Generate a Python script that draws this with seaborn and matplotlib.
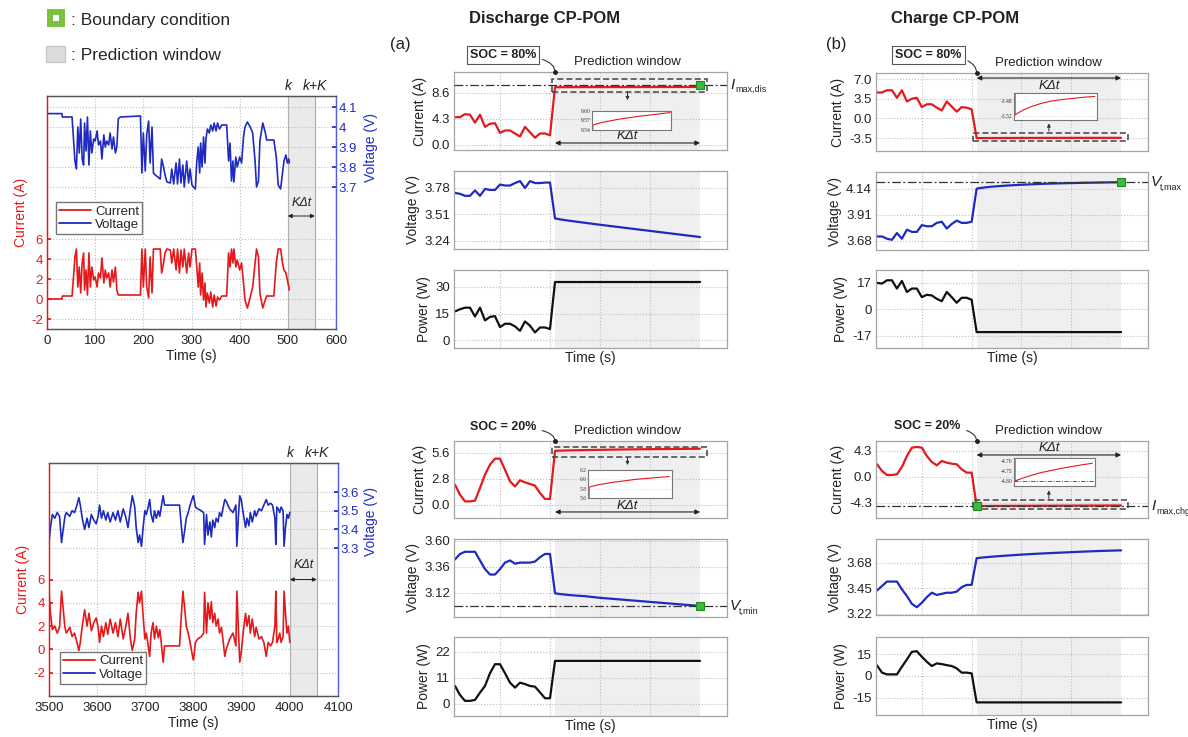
import matplotlib
matplotlib.use("Agg")
import matplotlib.pyplot as plt
import seaborn as sns
from matplotlib.lines import Line2D
from matplotlib.patches import Patch, Rectangle
from matplotlib.ticker import AutoMinorLocator

# -----------------------------
# Drive cycle before SOC = 80 % (top left)
# -----------------------------
tl_time = [
    0, 31, 32, 48, 52, 55, 58, 61, 64, 67,
    70, 73, 76, 78, 81, 84, 87, 90, 93, 97,
    100, 104, 107, 111, 114, 118, 121, 124, 128, 131,
    135, 138, 142, 145, 148, 152, 194, 197, 200, 204,
    207, 211, 214, 218, 221, 225, 230, 235, 238, 242,
    245, 249, 256, 259, 263, 268, 271, 275, 278, 282,
    285, 290, 294, 297, 301, 304, 308, 311, 314, 317,
    319, 322, 325, 328, 330, 333, 337, 340, 344, 347,
    351, 354, 358, 363, 373, 377, 380, 383, 386, 388,
    392, 395, 400, 404, 408, 411, 416, 422, 427, 432,
    435, 439, 442, 448, 453, 456, 471, 476, 480, 485,
    489, 492, 496, 499, 502, 503]
tl_current = [
    0.0, 0.0, 0.3, 0.3, 0.3, 2.2, 4.2, 5.0, 1.2, 3.2,
    0.6, 3.6, 4.6, 0.9, 2.9, 0.4, 4.6, 1.2, 3.2, 1.9,
    2.2, 1.2, 2.6, 2.1, 4.1, 1.6, 2.9, 2.1, 2.6, 1.2,
    2.9, 1.7, 3.2, 0.9, 0.4, 0.4, 0.4, 5.0, 1.2, 5.0,
    1.2, 0.1, 4.2, 0.6, 5.0, 5.0, 5.0, 5.0, 2.6, 3.6,
    4.6, 5.0, 4.9, 3.6, 5.0, 2.9, 5.0, 2.6, 4.9, 3.2,
    5.0, 2.6, 4.6, 3.2, 5.0, 5.0, 5.0, 3.2, 1.2, 3.6,
    0.4, 2.6, -0.1, 1.6, -0.8, 0.6, -0.4, 0.7, -0.8, 0.4,
    -0.7, 0.2, -0.1, 0.3, 0.3, 4.6, 3.2, 5.0, 3.6, 5.0,
    3.2, 3.9, 2.9, 3.6, 1.6, -0.1, -0.9, 0.2, 1.2, 3.6,
    5.0, 4.2, 0.6, -0.9, -0.1, 0.3, 0.3, 3.6, 5.0, 5.0,
    3.6, 2.9, 2.6, 1.9, 1.2, 0.9]
tl_voltage = [
    4.067, 4.067, 4.05, 4.05, 4.05, 3.94, 3.83, 3.79, 4.00, 3.87,
    4.04, 3.84, 3.81, 4.02, 3.88, 4.05, 3.81, 3.98, 3.87, 3.94,
    3.93, 3.98, 3.91, 3.93, 3.84, 3.96, 3.90, 3.93, 3.91, 3.97,
    3.89, 3.95, 3.87, 3.90, 4.04, 4.05, 4.055, 3.77, 3.97, 3.78,
    3.96, 4.03, 3.82, 4.00, 3.77, 3.76, 3.75, 3.74, 3.84, 3.80,
    3.76, 3.725, 3.72, 3.79, 3.715, 3.82, 3.715, 3.84, 3.72, 3.81,
    3.70, 3.83, 3.72, 3.79, 3.71, 3.70, 3.69, 3.83, 3.90, 3.77,
    3.92, 3.80, 3.95, 3.82, 3.94, 3.99, 3.97, 4.01, 3.98, 4.02,
    3.98, 4.02, 3.99, 4.01, 4.01, 3.83, 3.92, 3.73, 3.83, 3.725,
    3.85, 3.80, 3.85, 3.82, 3.95, 4.00, 4.025, 4.00, 3.97, 3.83,
    3.70, 3.73, 3.93, 4.02, 3.975, 3.935, 3.935, 3.85, 3.71, 3.69,
    3.77, 3.83, 3.86, 3.82, 3.84, 3.82]
tl_k, tl_kK = 500, 556

# -----------------------------
# Drive cycle before SOC = 20 % (bottom left)
# -----------------------------
bl_time = [
    3500, 3503, 3507, 3512, 3517, 3522, 3526, 3529, 3533, 3536,
    3543, 3548, 3553, 3558, 3562, 3565, 3569, 3574, 3579, 3583,
    3588, 3593, 3598, 3602, 3605, 3609, 3613, 3618, 3622, 3627,
    3633, 3638, 3643, 3648, 3654, 3659, 3664, 3669, 3673, 3678,
    3681, 3685, 3688, 3692, 3695, 3699, 3702, 3706, 3709, 3712,
    3716, 3719, 3723, 3727, 3730, 3733, 3737, 3740, 3744, 3771,
    3775, 3778, 3782, 3785, 3789, 3793, 3798, 3800, 3804, 3809,
    3816, 3821, 3823, 3827, 3830, 3834, 3837, 3840, 3844, 3847,
    3851, 3854, 3858, 3861, 3865, 3868, 3875, 3882, 3888, 3890,
    3893, 3896, 3899, 3903, 3908, 3911, 3915, 3918, 3922, 3927,
    3930, 3936, 3941, 3946, 3951, 3955, 3960, 3964, 3969, 3971,
    3973, 3976, 3979, 3982, 3986, 3988, 3991, 3994, 3997, 4000]
bl_current = [
    5.0, 3.1, 1.7, 2.0, 1.4, 1.9, 5.0, 3.7, 1.9, 1.4,
    1.9, 1.1, 1.4, 0.6, -0.1, 0.6, 2.0, 3.4, 2.0, 3.1,
    1.6, 2.3, 2.7, 1.9, 0.6, 2.0, 1.1, 2.3, 1.3, 2.6,
    1.4, 2.3, 1.1, 2.6, 0.9, 1.9, 3.1, 0.9, -0.1, 0.9,
    3.1, 4.9, 4.0, 5.0, 3.1, 0.9, 1.4, 0.3, -0.6, 1.4,
    2.3, 0.9, 2.0, 1.0, 1.7, 0.6, -1.1, 0.3, 0.3, 0.3,
    3.1, 5.0, 3.4, 2.0, 1.4, 0.6, -0.6, -0.9, 0.6, 0.9,
    1.1, 1.4, 4.9, 1.4, 4.0, 2.6, 4.1, 2.3, 3.1, 2.0,
    2.6, 1.4, 1.9, 0.9, -0.6, 0.0, 0.9, 1.4, 0.3, 5.0,
    2.0, -1.1, -0.3, 1.4, 3.1, 2.0, 2.9, 1.4, 2.6, 1.1,
    1.9, 0.9, 1.1, 0.6, -0.6, 0.6, 0.3, 0.6, 2.0, 5.0,
    0.6, 0.9, 1.4, 0.6, 1.1, 5.0, 3.1, 1.4, 2.0, 0.6]
bl_voltage = [
    3.33, 3.41, 3.48, 3.46, 3.49, 3.47, 3.33, 3.39, 3.47, 3.49,
    3.47, 3.50, 3.49, 3.53, 3.57, 3.53, 3.46, 3.40, 3.46, 3.41,
    3.48, 3.45, 3.43, 3.47, 3.53, 3.46, 3.50, 3.45, 3.49, 3.44,
    3.49, 3.45, 3.50, 3.44, 3.51, 3.47, 3.41, 3.51, 3.58, 3.52,
    3.41, 3.33, 3.37, 3.31, 3.40, 3.50, 3.48, 3.52, 3.56, 3.48,
    3.44, 3.50, 3.46, 3.50, 3.47, 3.52, 3.58, 3.53, 3.53, 3.53,
    3.41, 3.33, 3.40, 3.46, 3.49, 3.53, 3.57, 3.58, 3.52, 3.51,
    3.50, 3.49, 3.32, 3.48, 3.37, 3.44, 3.36, 3.45, 3.41, 3.46,
    3.44, 3.49, 3.47, 3.51, 3.56, 3.55, 3.51, 3.49, 3.53, 3.31,
    3.46, 3.58, 3.56, 3.49, 3.41, 3.46, 3.42, 3.49, 3.44, 3.50,
    3.47, 3.51, 3.50, 3.53, 3.56, 3.53, 3.54, 3.53, 3.46, 3.32,
    3.52, 3.51, 3.49, 3.52, 3.50, 3.31, 3.41, 3.48, 3.46, 3.49]
bl_k, bl_kK = 4000, 4056

# -----------------------------
# CP-POM panels: history (t <= 0) and prediction window (t = 1 .. 30)
# -----------------------------
hist_t = [-19, -18, -17, -16, -15, -14, -13, -12, -11, -10,
          -9, -8, -7, -6, -5, -4, -3, -2, -1, 0]
pred_t = [1, 2, 4, 7, 10, 14, 18, 22, 26, 30]
flat_t = [1, 30]
grid_t = [-10, 0, 10, 20]

# discharge, SOC = 80 %
dis80_hist_i = [4.6, 4.6, 5.1, 5.0, 3.7, 5.0, 3.0, 3.5, 3.6, 2.0,
                2.4, 2.4, 1.9, 1.4, 3.0, 2.1, 1.2, 1.9, 1.9, 1.6]
dis80_pred_i = [9.555, 9.558, 9.563, 9.568, 9.573, 9.578, 9.583, 9.587, 9.591, 9.595]
dis80_hist_v = [3.73, 3.72, 3.70, 3.70, 3.755, 3.70, 3.77, 3.76, 3.76, 3.815,
                3.805, 3.805, 3.83, 3.85, 3.78, 3.85, 3.83, 3.83, 3.835, 3.835]
dis80_pred_v = [3.47, 3.46, 3.445, 3.425, 3.405, 3.38, 3.355, 3.33, 3.305, 3.28]
dis80_hist_p = [16.2, 17.4, 18.3, 18.3, 13.3, 18.3, 11.1, 13.1, 13.5, 7.3,
                9.2, 9.2, 7.7, 5.2, 10.5, 8.1, 4.3, 7.1, 7.1, 6.2]
dis80_pred_p = [32.8, 32.8]

# charge, SOC = 80 %
chg80_hist_i = [4.6, 4.6, 5.0, 5.0, 3.65, 5.0, 3.0, 3.5, 3.65, 2.0,
                2.5, 2.5, 1.9, 1.4, 3.0, 2.1, 1.2, 2.0, 1.9, 1.6]
chg80_pred_i = [-3.517, -3.512, -3.504, -3.495, -3.488, -3.481, -3.477, -3.474, -3.471, -3.469]
chg80_hist_v = [3.72, 3.72, 3.70, 3.69, 3.75, 3.70, 3.78, 3.76, 3.76, 3.82,
                3.81, 3.81, 3.84, 3.85, 3.79, 3.83, 3.86, 3.84, 3.84, 3.85]
chg80_pred_v = [4.143, 4.150, 4.160, 4.170, 4.177, 4.185, 4.190, 4.194, 4.197, 4.200]
chg80_hist_p = [17.0, 16.6, 18.7, 18.7, 13.4, 18.3, 11.2, 13.4, 13.4, 7.9,
                9.4, 9.0, 6.8, 5.3, 11.2, 7.9, 4.3, 7.5, 7.5, 6.2]
chg80_pred_p = [-14.5, -14.5]

# discharge, SOC = 20 %
dis20_hist_i = [2.19, 1.11, 0.39, 0.39, 0.47, 1.83, 3.27, 4.34, 4.99, 4.99,
                3.8, 2.55, 2.0, 2.66, 2.44, 2.26, 2.08, 1.29, 0.65, 0.65]
dis20_pred_i = [5.83, 5.85, 5.88, 5.91, 5.94, 5.97, 6.0, 6.02, 6.04, 6.06]
dis20_hist_v = [3.43, 3.48, 3.50, 3.50, 3.50, 3.42, 3.34, 3.29, 3.29, 3.34,
                3.40, 3.42, 3.39, 3.40, 3.40, 3.40, 3.41, 3.45, 3.48, 3.48]
dis20_pred_v = [3.117, 3.11, 3.10, 3.09, 3.075, 3.06, 3.045, 3.03, 3.015, 3.0]
dis20_hist_p = [7.6, 3.8, 1.3, 1.3, 1.7, 4.8, 7.6, 13.0, 16.8, 16.8,
                13.0, 9.0, 6.9, 9.0, 8.4, 7.6, 7.3, 4.9, 2.4, 2.4]
dis20_pred_p = [18.2, 18.2]

# charge, SOC = 20 %
chg20_hist_i = [2.1, 1.0, 0.33, 0.33, 0.44, 1.65, 3.47, 4.85, 4.96, 4.85,
                3.47, 2.48, 1.93, 2.65, 2.37, 2.2, 2.1, 1.27, 0.72, 0.72]
chg20_pred_i = [-4.80, -4.795, -4.785, -4.772, -4.76, -4.748, -4.737, -4.727, -4.718, -4.71]
chg20_hist_v = [3.43, 3.47, 3.51, 3.51, 3.51, 3.44, 3.38, 3.31, 3.28, 3.32,
                3.37, 3.41, 3.39, 3.40, 3.41, 3.41, 3.42, 3.46, 3.48, 3.48]
chg20_pred_v = [3.72, 3.725, 3.733, 3.743, 3.752, 3.762, 3.77, 3.778, 3.785, 3.79]
chg20_hist_p = [7.2, 2.3, 1.1, 1.1, 1.1, 6.3, 11.3, 16.5, 16.9, 13.1,
                9.7, 6.8, 8.6, 8.1, 7.4, 6.8, 5.2, 2.3, 2.3, 1.8]
chg20_pred_p = [-18.0, -18.0]

imax_dis = 10.0
vt_max = 4.20
vt_min = 3.00
imax_chg = -4.80

# -----------------------------
# Style
# -----------------------------
sns.set_theme(style="white", rc={"xtick.labelsize": 9.5, "ytick.labelsize": 9.5,
                                 "axes.labelsize": 10, "axes.linewidth": 0.9})
plt.rcParams["font.family"] = ["Liberation Sans", "DejaVu Sans"]

RED = "#e3191c"
BLUE = "#1f2bbf"
BLACK = "#111111"
TXT = "#222222"
GRID = "#bdbdbd"
SHADE = "#efefef"

W, H = 1188, 737
fig = plt.figure(figsize=(W / 100, H / 100), dpi=100)


def px_axes(x0, y0, x1, y1):
    return fig.add_axes([x0 / W, 1 - y1 / H, (x1 - x0) / W, (y1 - y0) / H])


# -----------------------------
# Left panels (drive cycle with twin axes)
# -----------------------------
def drive_panel(box, t, cur, volt, k, kK, xlim, xticks, ilim, vlim, vticks, vlabels,
                kdt_y, leg_xy, vlabel_y):
    ax = px_axes(*box)
    ax2 = ax.twinx()
    ax.axvspan(k, kK, fc="#eaeaea", ec="#aaaaaa", lw=0.8, zorder=0)
    sns.lineplot(x=t, y=cur, ax=ax, color=RED, lw=1.2, estimator=None, sort=False, legend=False)
    sns.lineplot(x=t, y=volt, ax=ax2, color=BLUE, lw=1.2, estimator=None, sort=False, legend=False)
    ax.set_xlim(xlim)
    ax.set_xticks(xticks)
    ax.set_ylim(ilim)
    ax.set_yticks([-2, 0, 2, 4, 6])
    ax.set_yticklabels(["-2", "0", "2", "4", "6"])
    ax2.set_ylim(vlim)
    ax2.set_yticks(vticks)
    ax2.set_yticklabels(vlabels)
    ax.grid(True, ls=":", color=GRID, lw=0.8)
    ax2.grid(True, axis="y", ls=":", color=GRID, lw=0.8)
    ax.set_axisbelow(True)
    ax.tick_params(axis="y", colors=RED, direction="in", length=3, pad=3)
    ax.tick_params(axis="x", colors=TXT, direction="in", length=3, pad=4)
    ax2.tick_params(axis="y", colors=BLUE, direction="in", length=3, pad=2)
    for a in (ax, ax2):
        a.spines["left"].set_color(RED)
        a.spines["right"].set_color("#5560e0")
        a.spines["top"].set_color("#555555")
        a.spines["bottom"].set_color("#555555")
    ax.set_xlabel("Time (s)", color=TXT, labelpad=2)
    ax.set_ylabel("Current (A)", color=RED, labelpad=2)
    ax2.set_ylabel("")
    fig.text(371 / W, 1 - vlabel_y / H, "Voltage (V)", rotation=90, color=BLUE,
             ha="center", va="center", fontsize=10)
    for x, s in ((k, "k"), (kK, "k+K")):
        ax.annotate(s, xy=(x, 1), xycoords=("data", "axes fraction"), xytext=(0, 2),
                    textcoords="offset points", ha="center", va="bottom",
                    style="italic", fontsize=10, color=TXT)
    ax.annotate("", xy=(kK, kdt_y), xytext=(k, kdt_y),
                arrowprops=dict(arrowstyle="<|-|>", mutation_scale=6, lw=0.7,
                                color=TXT, shrinkA=0, shrinkB=0))
    ax.text((k + kK) / 2, kdt_y + 0.75, "KΔt", ha="center", va="bottom",
            style="italic", fontsize=9, color=TXT)
    handles = [Line2D([], [], color=RED, lw=1.3), Line2D([], [], color=BLUE, lw=1.3)]
    ax2.legend(handles, ["Current", "Voltage"], loc="upper left", bbox_to_anchor=leg_xy,
               fontsize=9.5, frameon=True, fancybox=False, framealpha=1,
               edgecolor="#777777", borderpad=0.25, labelspacing=0.1,
               handlelength=2.4, handletextpad=0.3, borderaxespad=0)
    return ax


drive_panel((47, 96, 336, 329), tl_time, tl_current, tl_voltage, tl_k, tl_kK,
            (0, 600), [0, 100, 200, 300, 400, 500, 600], (-3.0, 20.3),
            (2.99, 4.155), [3.7, 3.8, 3.9, 4.0, 4.1], ["3.7", "3.8", "3.9", "4", "4.1"],
            8.3, (0.031, 0.545), 148)
drive_panel((49, 463, 338, 696), bl_time, bl_current, bl_voltage, bl_k, bl_kK,
            (3500, 4100), [3500, 3600, 3700, 3800, 3900, 4000, 4100], (-4.0, 16.0),
            (2.51, 3.755), [3.3, 3.4, 3.5, 3.6], ["3.3", "3.4", "3.5", "3.6"],
            6.0, (0.038, 0.189), 522)


# -----------------------------
# Middle / right panels (CP-POM)
# -----------------------------
def cp_axes(box, t, y, color, ylim, ticks, labels, ylabel):
    ax = px_axes(*box)
    ax.axvspan(pred_t[0], pred_t[-1], fc=SHADE, ec="none", zorder=0)
    sns.lineplot(x=t, y=y, ax=ax, color=color, lw=1.6, estimator=None, sort=False, legend=False)
    ax.set_xlim(-19.2, 35.4)
    ax.set_ylim(ylim)
    ax.set_xticks(grid_t)
    ax.set_xticklabels([])
    ax.set_yticks(ticks)
    ax.set_yticklabels(labels)
    ax.yaxis.set_minor_locator(AutoMinorLocator(2))
    ax.grid(True, which="major", ls=":", color=GRID, lw=0.8)
    ax.set_axisbelow(True)
    ax.tick_params(axis="x", length=0, pad=0)
    ax.tick_params(axis="y", which="both", direction="in", color="#888888",
                   labelcolor=TXT, pad=3)
    ax.tick_params(axis="y", which="major", length=3)
    ax.tick_params(axis="y", which="minor", length=2)
    for s in ax.spines.values():
        s.set_color("#a5a5a5")
    ax.set_xlabel("")
    ax.set_ylabel(ylabel, color=TXT, labelpad=3)
    return ax


def limit_line(ax, value, letter, sub, sub_dx):
    ax.axhline(value, color="#333333", lw=0.9, ls=(0, (7, 2, 1.5, 2)), zorder=3)
    ax.annotate(letter, xy=(1, value), xycoords=("axes fraction", "data"), xytext=(3, 0),
                textcoords="offset pixels", ha="left", va="center", fontsize=11,
                style="italic", color=TXT, annotation_clip=False)
    ax.annotate(sub, xy=(1, value), xycoords=("axes fraction", "data"),
                xytext=(3 + sub_dx, -5), textcoords="offset pixels", ha="left",
                va="center", fontsize=6.5, color=TXT, annotation_clip=False)


def boundary(ax, t, value):
    ax.plot([t], [value], ls="none", marker="s", ms=5.5, mfc="#3cbc3c", mec="#1e8a1e",
            mew=0.8, clip_on=False, zorder=6)


def soc_note(ax, text, dx, dy, boxed):
    bbox = dict(boxstyle="square,pad=0.25", fc="white", ec="#555555", lw=0.8) if boxed else None
    ax.annotate(text, xy=(pred_t[0], 1), xycoords=("data", "axes fraction"),
                xytext=(dx, dy), textcoords="offset pixels", ha="center", va="center",
                fontsize=9, fontweight="bold", color=TXT, bbox=bbox,
                arrowprops=dict(arrowstyle="-", connectionstyle="angle3,angleA=0,angleB=90",
                                lw=0.8, color="#333333", shrinkA=2, shrinkB=0))
    ax.plot([pred_t[0]], [ax.get_ylim()[1]], ls="none", marker="o", ms=2.5,
            color="#222222", clip_on=False, zorder=6)


def window_marks(ax, arrow_y, text_y):
    ax.annotate("", xy=(pred_t[-1], arrow_y), xytext=(pred_t[0], arrow_y),
                arrowprops=dict(arrowstyle="<|-|>", mutation_scale=7, lw=0.8,
                                color=TXT, shrinkA=0, shrinkB=0))
    ax.text((pred_t[0] + pred_t[-1]) / 2, text_y, "KΔt", ha="center", va="center",
            style="italic", fontsize=9.5, color=TXT)
    ax.annotate("Prediction window", xy=(15.5, 1), xycoords=("data", "axes fraction"),
                xytext=(0, 4), textcoords="offset pixels", ha="center", va="bottom",
                fontsize=9.5, color=TXT)


def zoom_box(ax, lo, hi, arrow_from, arrow_to):
    ax.add_patch(Rectangle((0.3, lo), 31.0, hi - lo, fill=False, ec="#444444", lw=1.1,
                           ls=(0, (4, 2)), zorder=4))
    ax.annotate("", xy=(15.5, arrow_to), xytext=(15.5, arrow_from),
                arrowprops=dict(arrowstyle="-|>", mutation_scale=5, lw=0.7,
                                color="#333333", shrinkA=0, shrinkB=0))


def inset(box, t, y, xlim, ylim, ticks, labels, limit=None):
    ia = px_axes(*box)
    ia.set_facecolor("white")
    sns.lineplot(x=t, y=y, ax=ia, color=RED, lw=0.8, estimator=None, sort=False, legend=False)
    if limit is not None:
        ia.axhline(limit, color="#444444", lw=0.6, ls=(0, (5, 2, 1, 2)))
    ia.set_xlim(xlim)
    ia.set_ylim(ylim)
    ia.set_xticks([])
    ia.set_yticks(ticks)
    ia.set_yticklabels(labels, fontsize=4, family="Liberation Serif", color="#333333")
    ia.tick_params(axis="y", direction="in", length=1.5, pad=1)
    ia.grid(True, axis="y", ls=":", color="#cccccc", lw=0.5)
    ia.set_xlabel("")
    ia.set_ylabel("")
    for s in ia.spines.values():
        s.set_color("#777777")
        s.set_linewidth(0.8)
    return ia


# discharge, SOC = 80 %
a = cp_axes((454, 72, 727, 150), hist_t + pred_t, dis80_hist_i + dis80_pred_i, RED,
            (-0.83, 12.07), [0.0, 4.3, 8.6], ["0.0", "4.3", "8.6"], "Current (A)")
limit_line(a, imax_dis, "I", "max,dis", 5)
zoom_box(a, 8.8, 10.86, 8.8, 7.4)
window_marks(a, 0.33, 1.5)
soc_note(a, "SOC = 80%", -52, 17, True)
boundary(a, pred_t[-1], imax_dis)
b = cp_axes((454, 171, 727, 249), hist_t + pred_t, dis80_hist_v + dis80_pred_v, BLUE,
            (3.158, 3.953), [3.24, 3.51, 3.78], ["3.24", "3.51", "3.78"], "Voltage (V)")
c = cp_axes((454, 270, 727, 348), hist_t + flat_t, dis80_hist_p + dis80_pred_p, BLACK,
            (-4.5, 39.6), [0, 15, 30], ["0", "15", "30"], "Power (W)")
c.set_xlabel("Time (s)", color=TXT, labelpad=2)
inset((592, 111, 671, 130), hist_t + pred_t, dis80_hist_i + dis80_pred_i,
      (0.7, 30.3), (9.54, 9.60), [9.54, 9.57, 9.60], ["9.54", "9.57", "9.60"])

# charge, SOC = 80 %
a = cp_axes((876, 73, 1148, 151), hist_t + pred_t, chg80_hist_i + chg80_pred_i, RED,
            (-5.81, 8.07), [-3.5, 0.0, 3.5, 7.0], ["-3.5", "0.0", "3.5", "7.0"], "Current (A)")
zoom_box(a, -4.05, -2.6, -2.3, -0.9)
window_marks(a, 7.18, 5.75)
soc_note(a, "SOC = 80%", -48, 18, True)
b = cp_axes((876, 172, 1148, 250), hist_t + pred_t, chg80_hist_v + chg80_pred_v, BLUE,
            (3.60, 4.29), [3.68, 3.91, 4.14], ["3.68", "3.91", "4.14"], "Voltage (V)")
limit_line(b, vt_max, "V", "t,max", 9)
boundary(b, pred_t[-1], vt_max)
c = cp_axes((876, 270, 1148, 348), hist_t + flat_t, chg80_hist_p + chg80_pred_p, BLACK,
            (-24.7, 25.3), [-17, 0, 17], ["-17", "0", "17"], "Power (W)")
c.set_xlabel("Time (s)", color=TXT, labelpad=2)
inset((1014, 93, 1097, 120), hist_t + pred_t, chg80_hist_i + chg80_pred_i,
      (0.6, 30.8), (-3.53, -3.46), [-3.52, -3.48], ["-3.52", "-3.48"])

# discharge, SOC = 20 %
a = cp_axes((454, 441, 727, 518), hist_t + pred_t, dis20_hist_i + dis20_pred_i, RED,
            (-1.4, 6.89), [0.0, 2.8, 5.6], ["0.0", "2.8", "5.6"], "Current (A)")
zoom_box(a, 5.14, 6.28, 5.14, 4.3)
window_marks(a, -0.75, -0.1)
soc_note(a, "SOC = 20%", -52, 14, False)
b = cp_axes((454, 539, 727, 617), hist_t + pred_t, dis20_hist_v + dis20_pred_v, BLUE,
            (2.898, 3.618), [3.12, 3.36, 3.60], ["3.12", "3.36", "3.60"], "Voltage (V)")
limit_line(b, vt_min, "V", "t,min", 9)
boundary(b, pred_t[-1], vt_min)
c = cp_axes((454, 637, 727, 716), hist_t + flat_t, dis20_hist_p + dis20_pred_p, BLACK,
            (-5.1, 28.3), [0, 11, 22], ["0", "11", "22"], "Power (W)")
c.set_xlabel("Time (s)", color=TXT, labelpad=2.5)
inset((588, 470, 672, 498), hist_t + pred_t, dis20_hist_i + dis20_pred_i,
      (0.6, 31.0), (5.6, 6.2), [5.6, 5.8, 6.0, 6.2], ["5.6", "5.8", "6.0", "6.2"])

# charge, SOC = 20 %
a = cp_axes((876, 441, 1148, 518), hist_t + pred_t, chg20_hist_i + chg20_pred_i, RED,
            (-6.78, 5.95), [-4.3, 0.0, 4.3], ["-4.3", "0.0", "4.3"], "Current (A)")
limit_line(a, imax_chg, "I", "max,chg", 5)
zoom_box(a, -5.35, -3.8, -3.7, -2.2)
window_marks(a, 3.64, 4.8)
soc_note(a, "SOC = 20%", -49, 15, False)
boundary(a, pred_t[0], imax_chg)
b = cp_axes((876, 539, 1148, 615), hist_t + pred_t, chg20_hist_v + chg20_pred_v, BLUE,
            (3.21, 3.892), [3.22, 3.45, 3.68], ["3.22", "3.45", "3.68"], "Voltage (V)")
c = cp_axes((876, 637, 1148, 715), hist_t + flat_t, chg20_hist_p + chg20_pred_p, BLACK,
            (-26.6, 26.6), [-15, 0, 15], ["-15", "0", "15"], "Power (W)")
c.set_xlabel("Time (s)", color=TXT, labelpad=2.5)
inset((1014, 458, 1095, 486), hist_t + pred_t, chg20_hist_i + chg20_pred_i,
      (0.6, 31.0), (-4.826, -4.683), [-4.80, -4.75, -4.70], ["-4.80", "-4.75", "-4.70"],
      limit=imax_chg)

# -----------------------------
# Titles and top legend
# -----------------------------
fig.text(545 / W, 1 - 18 / H, "Discharge CP-POM", ha="center", va="center",
         fontsize=12, fontweight="bold", color=TXT)
fig.text(955 / W, 1 - 18 / H, "Charge CP-POM", ha="center", va="center",
         fontsize=12, fontweight="bold", color=TXT)
fig.text(400 / W, 1 - 45 / H, "(a)", ha="center", va="center", fontsize=12, color=TXT)
fig.text(836 / W, 1 - 45 / H, "(b)", ha="center", va="center", fontsize=12, color=TXT)

legend_handles = [
    Line2D([], [], ls="none", marker="s", ms=8.6, mfc="white", mec="#7cc242", mew=4.3),
    Patch(fc="#dcdcdc", ec="#c8c8c8"),
]
fig.legend(legend_handles, [": Boundary condition", ": Prediction window"],
           loc="upper left", bbox_to_anchor=(46 / W, 1 - 11 / H), frameon=False,
           fontsize=12.5, handlelength=1.1, handleheight=1.1, handletextpad=0.35,
           labelspacing=1.0, borderpad=0, borderaxespad=0)

fig.savefig("out.png", dpi=100, facecolor="white")
